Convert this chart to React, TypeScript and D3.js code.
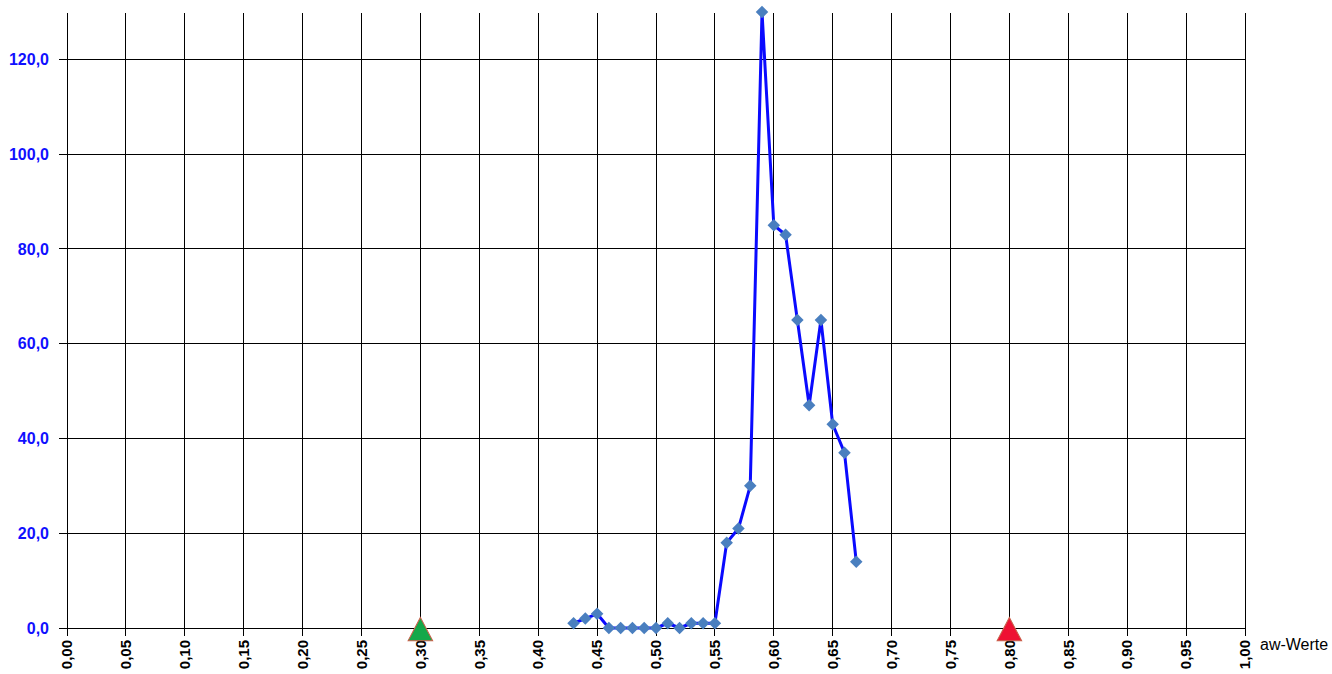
import * as d3 from "d3";

// aw-Werte und Häufigkeiten
const awValues = [0.43, 0.44, 0.45, 0.46, 0.47, 0.48, 0.49, 0.5, 0.51, 0.52, 0.53, 0.54, 0.55, 0.56, 0.57, 0.58, 0.59, 0.6, 0.61, 0.62, 0.63, 0.64, 0.65, 0.66, 0.67];
const counts = [1, 2, 3, 0, 0, 0, 0, 0, 1, 0, 1, 1, 1, 18, 21, 30, 130, 85, 83, 65, 47, 65, 43, 37, 14];
const xTicks = d3.range(0, 21).map((i) => i * 0.05);
const yTicks = [0, 20, 40, 60, 80, 100, 120];
const markers = [
  { aw: 0.3, color: "#14a84a" },
  { aw: 0.8, color: "#ee1133" },
];
const xLabel = "aw-Werte";

const W = 1332;
const H = 674;
const margin = { top: 12, right: 87, bottom: 46, left: 67 };

export default function App() {
  const x = d3.scaleLinear().domain([0, 1]).range([margin.left, W - margin.right]);
  const y = d3.scaleLinear().domain([0, 130]).range([H - margin.bottom, margin.top]);
  const y0 = y(0);

  const points = awValues.map((a, i) => ({ a, v: counts[i] }));
  const line = d3
    .line<{ a: number; v: number }>()
    .x((d) => x(d.a))
    .y((d) => y(d.v));

  const diamond = d3.symbol().type(d3.symbolDiamond2).size(100)();
  const triangle = d3.symbol().type(d3.symbolTriangle).size(260)();

  const fmt = (v: number, n: number) => v.toFixed(n).replace(".", ",");

  return (
    <svg
      width={W}
      height={H}
      style={{ position: "absolute", left: 0, top: 0, fontFamily: "'Liberation Sans', Arial, sans-serif" }}
    >
      <rect width={W} height={H} fill="#fff" />
      {/* horizontale Gitterlinien */}
      {yTicks.map((t) => (
        <g key={"y" + t}>
          <line x1={x(0) - 8} x2={x(1)} y1={y(t)} y2={y(t)} stroke="#000" strokeWidth={1} shapeRendering="crispEdges" />
          <text x={49} y={y(t)} dy="0.35em" textAnchor="end" fill="#1010ff" fontWeight="bold" fontSize={16}>
            {fmt(t, 1)}
          </text>
        </g>
      ))}
      {/* vertikale Gitterlinien */}
      {xTicks.map((t) => (
        <g key={"x" + t}>
          <line x1={x(t)} x2={x(t)} y1={margin.top + 1} y2={y0 + 8} stroke="#000" strokeWidth={1} shapeRendering="crispEdges" />
          <text
            transform={`translate(${x(t)},${y0 + 12}) rotate(-90)`}
            dy="0.35em"
            textAnchor="end"
            fill="#000"
            fontWeight="bold"
            fontSize={15}
          >
            {fmt(t, 2)}
          </text>
        </g>
      ))}
      <text x={x(1) + 15} y={y0 + 22} fontSize={16} fill="#000">
        {xLabel}
      </text>
      {/* Grenzwerte */}
      {markers.map((m) => (
        <path
          key={m.aw}
          d={triangle ?? ""}
          transform={`translate(${x(m.aw)},${y0 + 5}) scale(1,1.1)`}
          fill={m.color}
          stroke="#c8604a"
          strokeWidth={1}
        />
      ))}
      <path d={line(points) ?? ""} fill="none" stroke="#0a0aff" strokeWidth={3} strokeLinejoin="round" />
      {points.map((p) => (
        <path key={p.a} d={diamond ?? ""} transform={`translate(${x(p.a)},${y(p.v)})`} fill="#4a7fbf" />
      ))}
    </svg>
  );
}
